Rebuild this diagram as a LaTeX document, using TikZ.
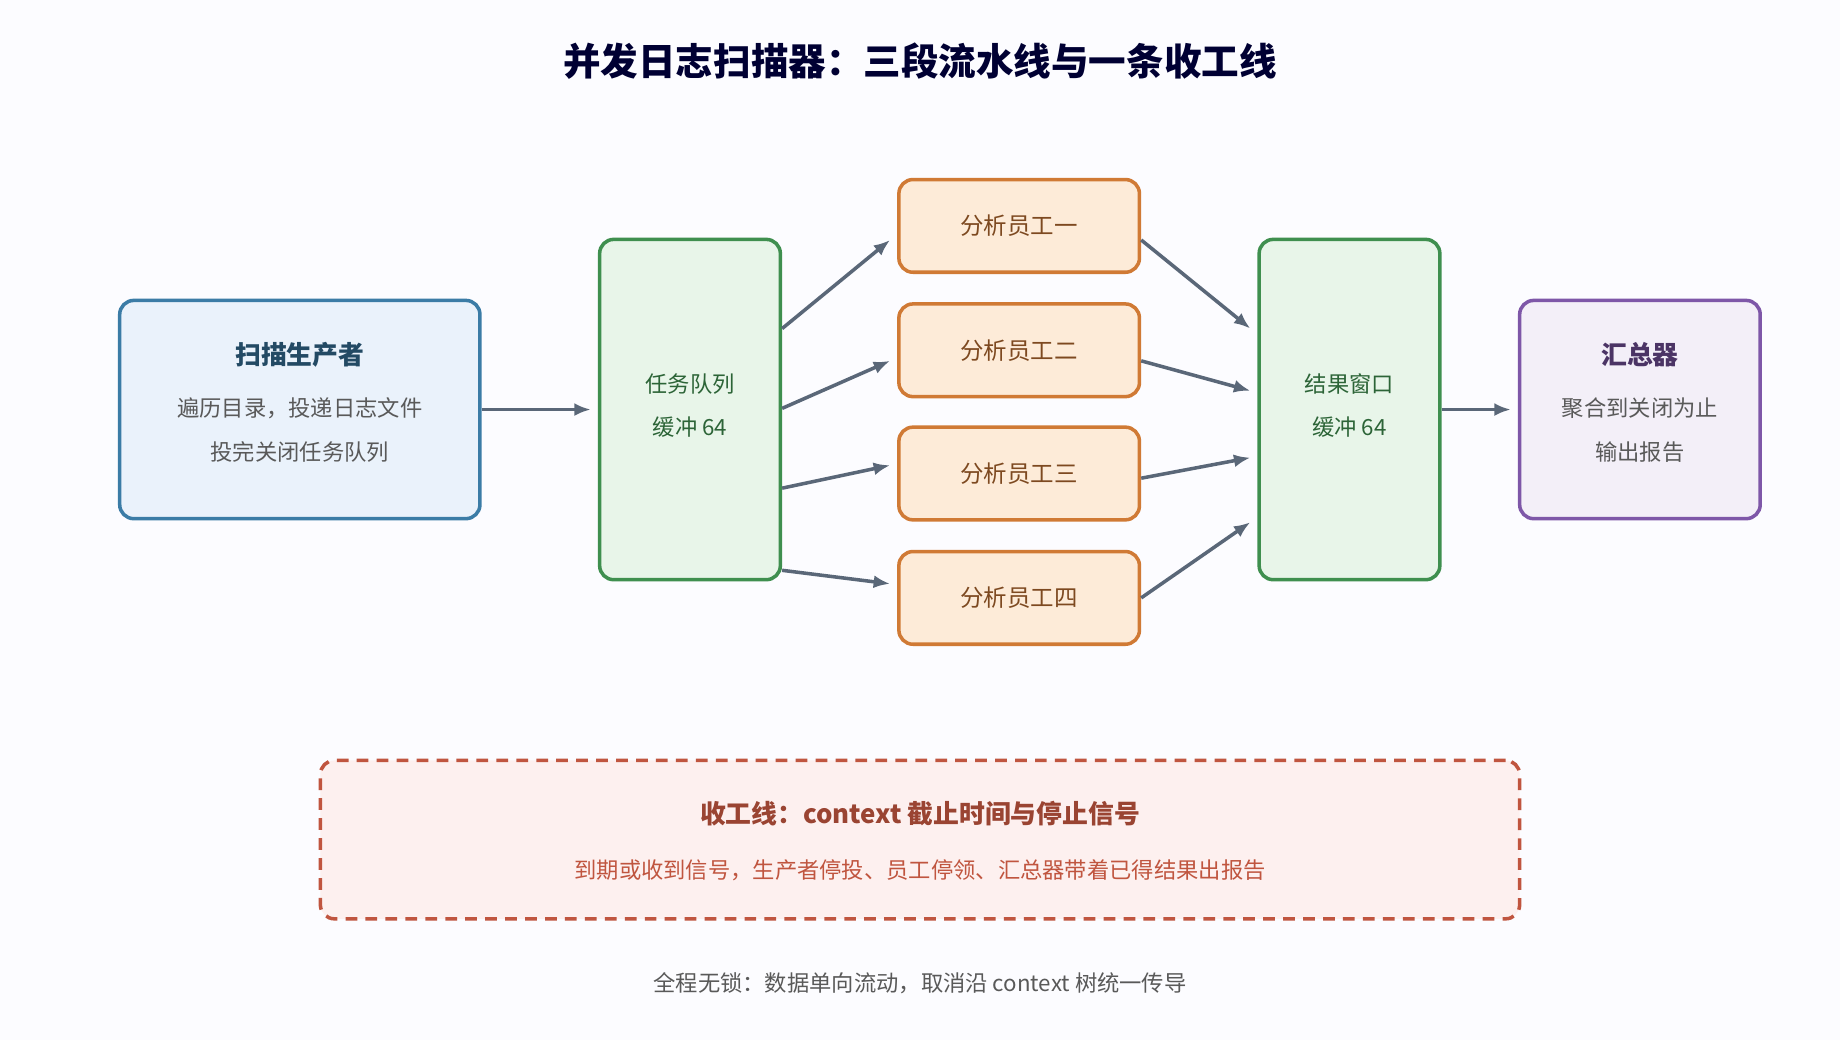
\documentclass[tikz,border=0pt]{standalone}
\usepackage{fontspec}
\setmainfont{Noto Sans CJK SC}
\usetikzlibrary{arrows.meta}
\definecolor{arrowgray}{HTML}{5A6778}
\definecolor{prodfill}{HTML}{EAF2FB}\definecolor{proddraw}{HTML}{3B7CA6}
\definecolor{queuefill}{HTML}{E8F5E9}\definecolor{queuedraw}{HTML}{3F8F4F}
\definecolor{workfill}{HTML}{FDEBD8}\definecolor{workdraw}{HTML}{D07A35}
\definecolor{aggfill}{HTML}{F3EFF8}\definecolor{aggdraw}{HTML}{7E57A8}
\definecolor{stopfill}{HTML}{FDF0EF}\definecolor{stopdraw}{HTML}{C0553F}
\tikzset{
  box/.style={draw, line width=3pt, rounded corners=12pt, inner sep=0},
  stage/.style={box, fill=queuefill, draw=queuedraw, minimum width=154pt, minimum height=290pt},
  worker/.style={box, fill=workfill, draw=workdraw, minimum width=205pt, minimum height=79pt,
                 text=workdraw!60!black, font=\fontsize{20}{24}\selectfont},
  txt/.style={inner sep=0, font=\fontsize{19}{23}\selectfont, text=black!65},
  head/.style={inner sep=0, font=\bfseries\fontsize{22}{26}\selectfont},
  flow/.style={-{Latex[length=14pt,width=11pt]}, line width=3pt, draw=arrowgray},
}
\begin{document}
\begin{tikzpicture}[x=1pt, y=-1pt]
  \useasboundingbox[fill=blue!1!white] (0,0) rectangle (1568,886);
  \node[head, font=\bfseries\fontsize{32}{38}\selectfont, text=black!80!blue] (title) at (784,52) {并发日志扫描器：三段流水线与一条收工线};
  % producer
  \node[box, fill=prodfill, draw=proddraw, minimum width=307pt, minimum height=186pt] (prod) at (255.5,349) {};
  \node[head, text=proddraw!60!black] (prodT) at (255.5,302) {扫描生产者};
  \node[txt] (prodA) at (255.5,348) {遍历目录，投递日志文件};
  \node[txt] (prodB) at (255.5,385) {投完关闭任务队列};
  % queues
  \node[stage] (queue) at (588,349) {};
  \node[txt, text=queuedraw!70!black] (queueA) at (588,327) {任务队列};
  \node[txt, text=queuedraw!70!black] (queueB) at (588,364) {缓冲 64};
  \node[stage] (result) at (1150,349) {};
  \node[txt, text=queuedraw!70!black] (resultA) at (1150,327) {结果窗口};
  \node[txt, text=queuedraw!70!black] (resultB) at (1150,364) {缓冲 64};
  % workers
  \node[worker] (w1) at (868.5,192.5) {分析员工一};
  \node[worker] (w2) at (868.5,298.5) {分析员工二};
  \node[worker] (w3) at (868.5,403.5) {分析员工三};
  \node[worker] (w4) at (868.5,509.5) {分析员工四};
  % aggregator
  \node[box, fill=aggfill, draw=aggdraw, minimum width=205pt, minimum height=186pt] (agg) at (1397.5,349) {};
  \node[head, text=aggdraw!60!black] (aggT) at (1397.5,302) {汇总器};
  \node[txt] (aggA) at (1397.5,348) {聚合到关闭为止};
  \node[txt] (aggB) at (1397.5,385) {输出报告};
  % arrows
  \draw[flow] (prod.east) -- ([xshift=-6pt]queue.west);
  \draw[flow] ([yshift=69pt]queue.east) -- ([xshift=-6pt,yshift=-12pt]w1.west);
  \draw[flow] ([yshift=1pt]queue.east) -- ([xshift=-6pt,yshift=-9pt]w2.west);
  \draw[flow] ([yshift=-67pt]queue.east) -- ([xshift=-6pt,yshift=7pt]w3.west);
  \draw[flow] ([yshift=-137pt]queue.east) -- ([xshift=-6pt,yshift=12pt]w4.west);
  \draw[flow] ([yshift=-12pt]w1.east) -- ([xshift=-6pt,yshift=69pt]result.west);
  \draw[flow] ([yshift=-9pt]w2.east) -- ([xshift=-6pt,yshift=16pt]result.west);
  \draw[flow] ([yshift=-4pt]w3.east) -- ([xshift=-6pt,yshift=-41pt]result.west);
  \draw[flow] (w4.east) -- ([xshift=-6pt,yshift=-96pt]result.west);
  \draw[flow] (result.east) -- ([xshift=-6pt]agg.west);
  % shutdown line
  \node[box, dashed, dash pattern=on 10pt off 7pt, fill=stopfill, draw=stopdraw, minimum width=1022pt, minimum height=135pt] (stop) at (784,715.5) {};
  \node[head, text=stopdraw!80!black] (stopT) at (784,693) {收工线：context 截止时间与停止信号};
  \node[txt, text=stopdraw] (stopA) at (784,742) {到期或收到信号，生产者停投、员工停领、汇总器带着已得结果出报告};
  \node[txt] (foot) at (784,838) {全程无锁：数据单向流动，取消沿 context 树统一传导};
\end{tikzpicture}
\end{document}
